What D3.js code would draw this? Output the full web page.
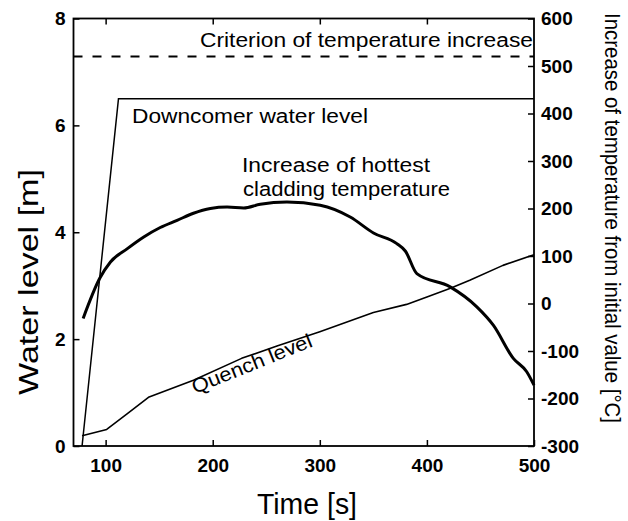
<!DOCTYPE html>
<html><head><meta charset="utf-8">
<script src="https://cdn.jsdelivr.net/npm/d3@7"></script>
<style>
body{margin:0;background:#fff;}
svg{display:block;font-family:"Liberation Sans",Arial,sans-serif;}
</style></head><body>
<svg id="c" width="628" height="521"></svg>
<script>
// ---- data ----
const xTicks = [100, 200, 300, 400, 500];
const yLeftTicks = [0, 2, 4, 6, 8];
const yRightTicks = [-300, -200, -100, 0, 100, 200, 300, 400, 500, 600];

const downcomerTime = [78, 112, 500];
const downcomerLevel = [0, 6.5, 6.5];

const quenchTime = [78, 101, 120, 140, 182, 227, 260, 300, 350, 381, 400, 422, 440, 471, 500];
const quenchLevel = [0.19, 0.31, 0.6, 0.91, 1.23, 1.64, 1.87, 2.14, 2.50, 2.65, 2.79, 2.95, 3.10, 3.38, 3.58];

const tempTime = [79, 94.5, 104.5, 120, 135.6, 151, 166.7, 182, 197.8, 213.4, 228.9, 244.4, 269.3, 300.4, 328.4, 350.1, 371.9, 380, 390.6, 421.7, 446.6, 462, 480.7, 493.2, 500];
const tempIncrease = [-31.5, 53, 87.5, 115, 140, 160, 175, 190, 200, 203, 201, 209, 213.6, 206.7, 182, 148.5, 126, 110, 63, 35, -7, -45.6, -115.6, -143.8, -172];

const criterionTime = [70, 500];
const criterionValue = [520, 520];

// ---- layout ----
const svg = d3.select("#c");
const L = 73.5, R = 534, T = 18.5, B = 446;
const x = d3.scaleLinear().domain([70, 500]).range([L, R]);
const yL = d3.scaleLinear().domain([0, 8]).range([B, T]);
const yR = d3.scaleLinear().domain([-300, 600]).range([B, T]);
const fmt = d => String(d);

const tickFont = g => g.selectAll("text").attr("font-size", 19).attr("font-weight", "bold")
  .attr("fill", "#000").attr("font-family", '"Liberation Sans",Arial,sans-serif');
const clean = g => { g.select(".domain").remove(); g.selectAll("line").attr("stroke", "#000").attr("stroke-width", 1.5); };

svg.append("g").attr("transform", `translate(0,${B})`)
  .call(d3.axisBottom(x).tickValues(xTicks).tickSizeInner(-6).tickSizeOuter(0).tickPadding(13).tickFormat(fmt))
  .call(clean).call(tickFont);
svg.append("g").attr("transform", `translate(0,${T})`)
  .call(d3.axisTop(x).tickValues(xTicks.slice(0, 4)).tickSizeInner(-6).tickSizeOuter(0).tickFormat(""))
  .call(clean);
svg.append("g").attr("transform", `translate(${L},0)`)
  .call(d3.axisLeft(yL).tickValues(yLeftTicks).tickSizeInner(-6).tickSizeOuter(0).tickPadding(8).tickFormat(fmt))
  .call(clean).call(tickFont);
svg.append("g").attr("transform", `translate(${R},0)`)
  .call(d3.axisRight(yR).tickValues(yRightTicks).tickSizeInner(-6).tickSizeOuter(0).tickPadding(7).tickFormat(fmt))
  .call(clean).call(tickFont);

svg.append("rect").attr("x", L).attr("y", T).attr("width", R - L).attr("height", B - T)
  .attr("fill", "none").attr("stroke", "#000").attr("stroke-width", 1.8);

// ---- lines ----
const lineL = d3.line().x(d => x(d[0])).y(d => yL(d[1]));
const lineR = d3.line().x(d => x(d[0])).y(d => yR(d[1]));

svg.append("path").datum(d3.zip(criterionTime, criterionValue)).attr("d", lineR)
  .attr("fill", "none").attr("stroke", "#000").attr("stroke-width", 2).attr("stroke-dasharray", "9,10");
svg.append("path").datum(d3.zip(downcomerTime, downcomerLevel)).attr("d", lineL)
  .attr("fill", "none").attr("stroke", "#000").attr("stroke-width", 1.5);
svg.append("path").datum(d3.zip(quenchTime, quenchLevel)).attr("d", lineL)
  .attr("fill", "none").attr("stroke", "#000").attr("stroke-width", 1.6).attr("stroke-linejoin", "round");
svg.append("path").datum(d3.zip(tempTime, tempIncrease)).attr("d", lineR.curve(d3.curveMonotoneX))
  .attr("fill", "none").attr("stroke", "#000").attr("stroke-width", 3).attr("stroke-linejoin", "round");

// ---- text ----
function txt(s, xx, yy, size, len, opts = {}) {
  const t = svg.append("text").attr("x", xx).attr("y", yy).attr("font-size", size).attr("fill", "#000").text(s);
  if (len) t.attr("textLength", len).attr("lengthAdjust", "spacingAndGlyphs");
  if (opts.anchor) t.attr("text-anchor", opts.anchor);
  if (opts.transform) t.attr("transform", opts.transform);
  return t;
}
txt("Criterion of temperature increase", 200, 47, 20, 333);
txt("Downcomer water level", 132, 123, 20, 236);
txt("Increase of hottest", 242, 172, 20, 188);
txt("cladding temperature", 243, 196, 20, 207);
txt("Quench level", 0, 0, 20, 128, {transform: "translate(195,394) rotate(-22)"});

txt("Time [s]", 307, 514, 29, 100, {anchor: "middle"});
txt("Water level [m]", 0, 0, 27, 226, {anchor: "middle", transform: "translate(38,282) rotate(-90)"});
txt("Increase of temperature from initial value [°C]", 0, 0, 22, 410, {anchor: "middle", transform: "translate(605,218) rotate(90)"});
</script>
</body></html>
